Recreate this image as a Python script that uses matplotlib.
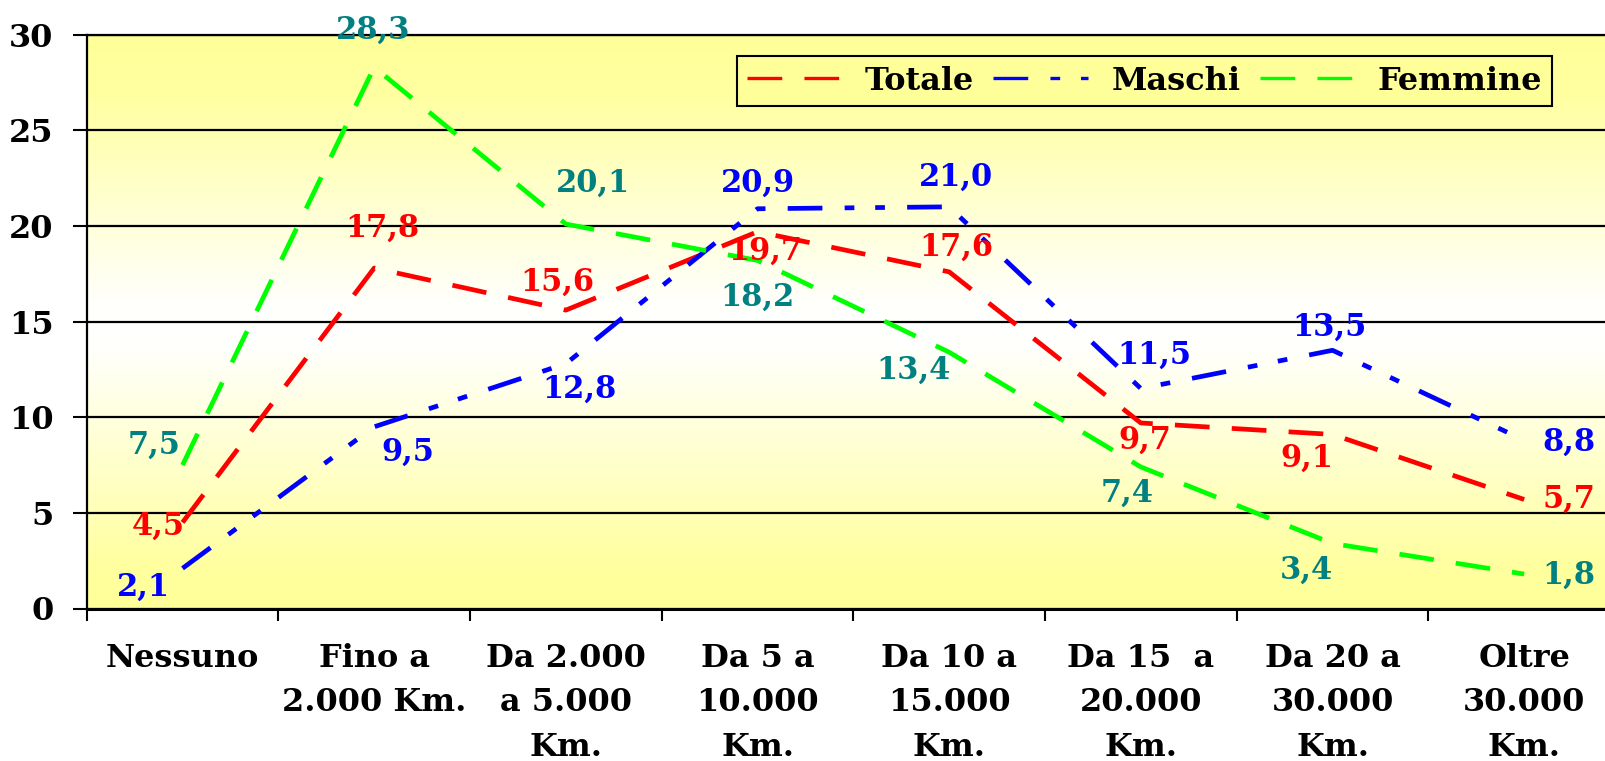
import numpy as np
import matplotlib
matplotlib.use("Agg")
import matplotlib.pyplot as plt

categories = ["Nessuno", "Fino a\n2.000 Km.", "Da 2.000\na 5.000\nKm.", "Da 5 a\n10.000\nKm.",
              "Da 10 a\n15.000\nKm.", "Da 15  a\n20.000\nKm.", "Da 20 a\n30.000\nKm.", "Oltre\n30.000\nKm."]
totale = [4.5, 17.8, 15.6, 19.7, 17.6, 9.7, 9.1, 5.7]
maschi = [2.1, 9.5, 12.8, 20.9, 21.0, 11.5, 13.5, 8.8]
femmine = [7.5, 28.3, 20.1, 18.2, 13.4, 7.4, 3.4, 1.8]

# label offsets in pixels (dx right, dy down) relative to each point
off_tot = [(-24, 4), (8, -40), (-9, -28), (8, 20), (7, -25), (4, 17), (-26, 24), (45, 0)]
off_mas = [(-39, 19), (34, 25), (14, 26), (0, -25), (7, -30), (13, -33), (-3, -23), (45, 2)]
off_fem = [(-28, -20), (-1, -37), (27, -41), (0, 37), (-36, 18), (-14, 26), (-26, 27), (45, 1)]

plt.rcParams["font.family"] = ["DejaVu Serif"]
plt.rcParams["font.weight"] = "bold"
plt.rcParams["lines.scale_dashes"] = False

W, H = 1606, 761
fig = plt.figure(figsize=(W / 100, H / 100), dpi=100)
x0, y0, x1, y1 = 86.7, 608.5, 1620.0, 34.7
ax = fig.add_axes([x0 / W, 1 - y0 / H, (x1 - x0) / W, (y0 - y1) / H])

# background gradient yellow -> white -> yellow
vals = np.linspace(0, 30, 300)
blue_ch = np.interp(vals, [0, 2, 14, 16, 27, 30], [153, 158, 255, 252, 160, 153]) / 255
grad = np.stack([np.ones_like(vals), np.ones_like(vals), blue_ch], axis=1)
ax.imshow(grad[:, None, :], extent=[0, 8, 0, 30], origin="lower", aspect="auto", zorder=0)

xs = np.arange(len(categories)) + 0.5
ax.set_xlim(0, 8)
ax.set_ylim(0, 30)

ax.set_yticks(range(0, 31, 5))
ax.yaxis.grid(True, color="black", lw=1.6, zorder=1)
ax.set_axisbelow(False)
ax.tick_params(axis="y", length=10, width=1.5, pad=14, labelsize=23)

ax.set_xticks(xs)
ax.set_xticklabels(categories, fontsize=23, linespacing=1.55, va="top")
ax.set_xticks(np.arange(0, 9), minor=True)
ax.tick_params(axis="x", which="major", length=0, pad=25)
ax.tick_params(axis="x", which="minor", length=8.6, width=1.5)

for s in ["left", "top"]:
    ax.spines[s].set_linewidth(1.6)
ax.spines["bottom"].set_linewidth(2.2)
ax.spines["right"].set_visible(False)

lw = 3.4
l1, = ax.plot(xs, totale, color="#FF0000", lw=lw, linestyle=(0, (25, 16)), zorder=3, label="Totale")
l2, = ax.plot(xs, maschi, color="#0000FF", lw=lw, linestyle=(0, (25, 16, 7, 15, 7, 16)), zorder=3, label="Maschi")
l3, = ax.plot(xs, femmine, color="#00FF00", lw=lw, linestyle=(0, (25, 16)), zorder=3, label="Femmine")

k = 72 / 100
for series, offs, col in [(totale, off_tot, "#FF0000"), (maschi, off_mas, "#0000FF"), (femmine, off_fem, "#008080")]:
    for xi, v, (dx, dy) in zip(xs, series, offs):
        ax.annotate(f"{v:.1f}".replace(".", ","), (xi, v), xytext=(dx * k, -dy * k),
                    textcoords="offset points", ha="center", va="center",
                    fontsize=22, color=col, zorder=4, annotation_clip=False)

leg = ax.legend(handles=[l1, l2, l3], ncol=3, loc="upper right",
                bbox_to_anchor=(1552 / W, 1 - 56 / H), bbox_transform=fig.transFigure,
                borderaxespad=0, fontsize=23, frameon=True, fancybox=False, framealpha=1,
                facecolor="#FFFF99", edgecolor="black", borderpad=0.3,
                handlelength=2.95, handletextpad=0.75, columnspacing=0.6)
leg.get_frame().set_linewidth(1.5)
for line in leg.get_lines():
    line.set_linewidth(2.4)

fig.savefig("out.png", dpi=100)
